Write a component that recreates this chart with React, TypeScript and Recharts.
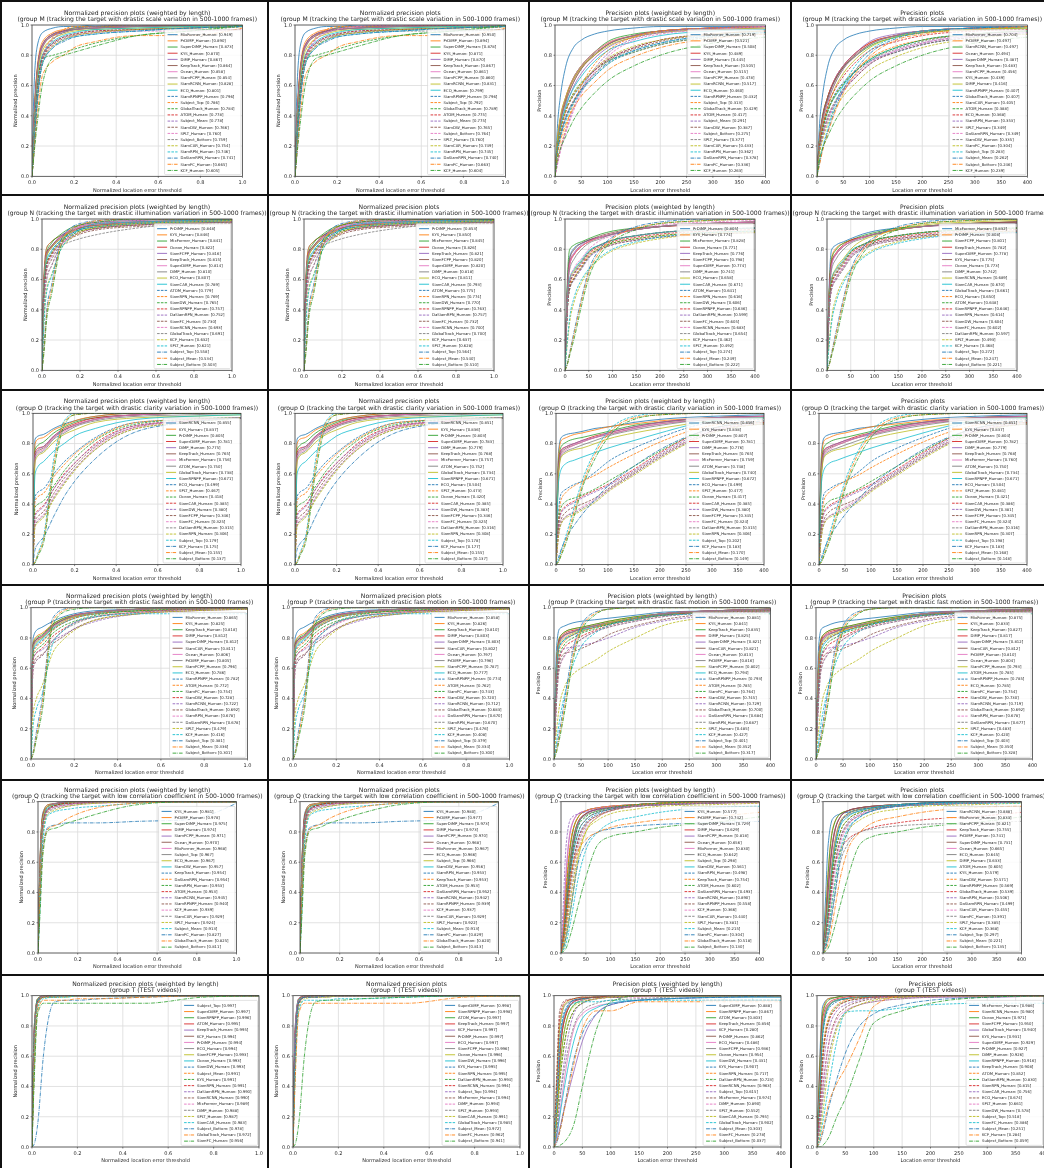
import React from 'react';
import { LineChart, Line, XAxis, YAxis, CartesianGrid } from 'recharts';

type Entry = [string, number];
type Curves = Record<string, number[]>;

const FONT = '"DejaVu Sans", sans-serif';
const TEXT = '#262626';
const TAB10 = ['#1f77b4', '#ff7f0e', '#2ca02c', '#d62728', '#9467bd', '#8c564b', '#e377c2', '#7f7f7f', '#bcbd22', '#17becf'];

// sample thresholds (curves below list the value in % at each threshold after 0)
const NORM_X = [0, 0.01, 0.025, 0.05, 0.1, 0.15, 0.2, 0.3, 0.5, 0.75, 1];
const PREC_X = [0, 5, 10, 20, 35, 50, 75, 100, 150, 200, 300, 400];
const NORM_TICKS = [0, 0.2, 0.4, 0.6, 0.8, 1];
const PREC_TICKS = [0, 50, 100, 150, 200, 250, 300, 350, 400];
const Y_TICKS = [0, 0.2, 0.4, 0.6, 0.8, 1];

const COL_TITLES = ['Normalized precision plots (weighted by length)', 'Normalized precision plots', 'Precision plots (weighted by length)', 'Precision plots'];
const SUBTITLES = [
  '(group M (tracking the target with drastic scale variation in 500-1000 frames))',
  '(group N (tracking the target with drastic illumination variation in 500-1000 frames))',
  '(group O (tracking the target with drastic clarity variation in 500-1000 frames))',
  '(group P (tracking the target with drastic fast motion in 500-1000 frames))',
  '(group Q (tracking the target with low correlation coefficient in 500-1000 frames))',
  '(group T (TEST videos))',
];

// ---------- legends (name, score) ----------
const LEG_M_NW: Entry[] = [['MixFormer', .949], ['PrDiMP', .890], ['SuperDiMP', .873], ['KYS', .870], ['DiMP', .867], ['KeepTrack', .864], ['Ocean', .858], ['SiamFCPP', .854], ['SiamRCNN', .828], ['ECO', .801], ['SiamRPNPP', .796], ['Subject_Top', .786], ['GlobalTrack', .784], ['ATOM', .778], ['Subject_Mean', .778], ['SiamDW', .766], ['SPLT', .760], ['Subject_Bottom', .759], ['SiamCAR', .754], ['SiamRPN', .746], ['DaSiamRPN', .741], ['SiamFC', .665], ['KCF', .605]];
const LEG_M_N: Entry[] = [['MixFormer', .950], ['PrDiMP', .894], ['SuperDiMP', .878], ['KYS', .871], ['DiMP', .870], ['KeepTrack', .867], ['Ocean', .861], ['SiamFCPP', .860], ['SiamRCNN', .831], ['ECO', .799], ['SiamRPNPP', .796], ['Subject_Top', .792], ['GlobalTrack', .789], ['ATOM', .775], ['Subject_Mean', .775], ['SiamDW', .765], ['Subject_Bottom', .764], ['SPLT', .760], ['SiamCAR', .749], ['SiamRPN', .745], ['DaSiamRPN', .740], ['SiamFC', .663], ['KCF', .604]];
const LEG_M_PW: Entry[] = [['MixFormer', .719], ['PrDiMP', .521], ['SuperDiMP', .508], ['KYS', .489], ['DiMP', .445], ['KeepTrack', .505], ['Ocean', .515], ['SiamFCPP', .478], ['SiamRCNN', .517], ['ECO', .460], ['SiamRPNPP', .432], ['Subject_Top', .313], ['GlobalTrack', .429], ['ATOM', .417], ['Subject_Mean', .291], ['SiamDW', .387], ['Subject_Bottom', .275], ['SPLT', .377], ['SiamCAR', .433], ['SiamRPN', .362], ['DaSiamRPN', .378], ['SiamFC', .336], ['KCF', .263]];
const LEG_M_P: Entry[] = [['MixFormer', .704], ['PrDiMP', .497], ['SiamRCNN', .497], ['Ocean', .494], ['SuperDiMP', .487], ['KeepTrack', .483], ['SiamFCPP', .456], ['KYS', .439], ['DiMP', .416], ['SiamRPNPP', .407], ['GlobalTrack', .407], ['SiamCAR', .405], ['ATOM', .388], ['ECO', .368], ['SiamRPN', .353], ['SPLT', .349], ['DaSiamRPN', .349], ['SiamDW', .335], ['SiamFC', .304], ['Subject_Top', .283], ['Subject_Mean', .262], ['Subject_Bottom', .246], ['KCF', .239]];

const LEG_N_NW: Entry[] = [['PrDiMP', .848], ['KYS', .846], ['MixFormer', .841], ['Ocean', .822], ['SiamFCPP', .816], ['KeepTrack', .815], ['SuperDiMP', .814], ['DiMP', .810], ['ECO', .807], ['SiamCAR', .789], ['ATOM', .779], ['SiamRPN', .769], ['SiamDW', .765], ['SiamRPNPP', .757], ['DaSiamRPN', .752], ['SiamFC', .730], ['SiamRCNN', .693], ['GlobalTrack', .691], ['KCF', .632], ['SPLT', .621], ['Subject_Top', .558], ['Subject_Mean', .534], ['Subject_Bottom', .503]];
const LEG_N_N: Entry[] = [['PrDiMP', .853], ['KYS', .850], ['MixFormer', .845], ['Ocean', .826], ['KeepTrack', .821], ['SiamFCPP', .820], ['SuperDiMP', .820], ['DiMP', .818], ['ECO', .811], ['SiamCAR', .793], ['ATOM', .775], ['SiamRPN', .774], ['SiamDW', .770], ['SiamRPNPP', .763], ['DaSiamRPN', .757], ['SiamFC', .732], ['SiamRCNN', .700], ['GlobalTrack', .700], ['KCF', .637], ['SPLT', .628], ['Subject_Top', .564], ['Subject_Mean', .540], ['Subject_Bottom', .510]];
const LEG_N_PW: Entry[] = [['PrDiMP', .805], ['KYS', .774], ['MixFormer', .828], ['Ocean', .771], ['KeepTrack', .776], ['SiamFCPP', .798], ['SuperDiMP', .774], ['DiMP', .741], ['ECO', .658], ['SiamCAR', .671], ['ATOM', .641], ['SiamRPN', .616], ['SiamDW', .606], ['SiamRPNPP', .636], ['DaSiamRPN', .599], ['SiamFC', .605], ['SiamRCNN', .683], ['GlobalTrack', .654], ['KCF', .462], ['SPLT', .492], ['Subject_Top', .274], ['Subject_Mean', .249], ['Subject_Bottom', .222]];
const LEG_N_P: Entry[] = [['MixFormer', .832], ['PrDiMP', .808], ['SiamFCPP', .801], ['KeepTrack', .782], ['SuperDiMP', .778], ['KYS', .775], ['Ocean', .773], ['DiMP', .742], ['SiamRCNN', .689], ['SiamCAR', .670], ['GlobalTrack', .661], ['ECO', .650], ['ATOM', .648], ['SiamRPNPP', .646], ['SiamRPN', .614], ['SiamDW', .604], ['SiamFC', .602], ['DaSiamRPN', .597], ['SPLT', .493], ['KCF', .468], ['Subject_Top', .272], ['Subject_Mean', .247], ['Subject_Bottom', .221]];

const LEG_O_NW: Entry[] = [['SiamRCNN', .855], ['KYS', .837], ['PrDiMP', .805], ['SuperDiMP', .781], ['DiMP', .775], ['KeepTrack', .765], ['MixFormer', .756], ['ATOM', .750], ['GlobalTrack', .738], ['SiamRPNPP', .671], ['ECO', .499], ['SPLT', .467], ['Ocean', .418], ['SiamCAR', .385], ['SiamDW', .380], ['SiamFCPP', .346], ['SiamFC', .325], ['DaSiamRPN', .315], ['SiamRPN', .306], ['Subject_Top', .179], ['KCF', .175], ['Subject_Mean', .155], ['Subject_Bottom', .137]];
const LEG_O_N: Entry[] = [['SiamRCNN', .851], ['KYS', .836], ['PrDiMP', .803], ['SuperDiMP', .783], ['DiMP', .779], ['KeepTrack', .768], ['MixFormer', .757], ['ATOM', .752], ['GlobalTrack', .734], ['SiamRPNPP', .671], ['ECO', .504], ['SPLT', .473], ['Ocean', .420], ['SiamCAR', .385], ['SiamDW', .383], ['SiamFCPP', .346], ['SiamFC', .325], ['DaSiamRPN', .316], ['SiamRPN', .308], ['Subject_Top', .178], ['KCF', .177], ['Subject_Mean', .155], ['Subject_Bottom', .137]];
const LEG_O_PW: Entry[] = [['SiamRCNN', .856], ['KYS', .838], ['PrDiMP', .807], ['SuperDiMP', .781], ['DiMP', .776], ['KeepTrack', .765], ['MixFormer', .759], ['ATOM', .748], ['GlobalTrack', .740], ['SiamRPNPP', .672], ['ECO', .499], ['SPLT', .477], ['Ocean', .417], ['SiamCAR', .385], ['SiamDW', .380], ['SiamFCPP', .345], ['SiamFC', .324], ['DaSiamRPN', .315], ['SiamRPN', .306], ['Subject_Top', .202], ['KCF', .183], ['Subject_Mean', .170], ['Subject_Bottom', .149]];
const LEG_O_P: Entry[] = [['SiamRCNN', .851], ['KYS', .837], ['PrDiMP', .804], ['SuperDiMP', .782], ['DiMP', .779], ['KeepTrack', .768], ['MixFormer', .760], ['ATOM', .750], ['GlobalTrack', .734], ['SiamRPNPP', .671], ['ECO', .504], ['SPLT', .481], ['Ocean', .421], ['SiamCAR', .386], ['SiamDW', .381], ['SiamFCPP', .345], ['SiamFC', .324], ['DaSiamRPN', .316], ['SiamRPN', .307], ['Subject_Top', .198], ['KCF', .183], ['Subject_Mean', .168], ['Subject_Bottom', .148]];

const LEG_P_NW: Entry[] = [['MixFormer', .865], ['KYS', .825], ['KeepTrack', .818], ['DiMP', .812], ['SuperDiMP', .812], ['SiamCAR', .811], ['Ocean', .806], ['PrDiMP', .805], ['SiamFCPP', .796], ['ECO', .786], ['SiamRPNPP', .782], ['ATOM', .772], ['SiamFC', .754], ['SiamDW', .728], ['SiamRCNN', .722], ['GlobalTrack', .692], ['SiamRPN', .678], ['DaSiamRPN', .678], ['SPLT', .479], ['KCF', .416], ['Subject_Top', .381], ['Subject_Mean', .336], ['Subject_Bottom', .301]];
const LEG_P_N: Entry[] = [['MixFormer', .858], ['KYS', .826], ['KeepTrack', .810], ['DiMP', .803], ['SuperDiMP', .803], ['SiamCAR', .802], ['Ocean', .797], ['PrDiMP', .796], ['SiamFCPP', .787], ['ECO', .777], ['SiamRPNPP', .774], ['ATOM', .762], ['SiamFC', .743], ['SiamDW', .720], ['SiamRCNN', .712], ['GlobalTrack', .683], ['DaSiamRPN', .670], ['SiamRPN', .670], ['SPLT', .476], ['KCF', .408], ['Subject_Top', .379], ['Subject_Mean', .334], ['Subject_Bottom', .300]];
const LEG_P_PW: Entry[] = [['MixFormer', .881], ['KYS', .841], ['KeepTrack', .835], ['DiMP', .825], ['SuperDiMP', .821], ['SiamCAR', .821], ['Ocean', .813], ['PrDiMP', .816], ['SiamFCPP', .802], ['ECO', .794], ['SiamRPNPP', .793], ['ATOM', .785], ['SiamFC', .764], ['SiamDW', .745], ['SiamRCNN', .729], ['GlobalTrack', .700], ['DaSiamRPN', .684], ['SiamRPN', .687], ['SPLT', .485], ['KCF', .427], ['Subject_Top', .401], ['Subject_Mean', .352], ['Subject_Bottom', .317]];
const LEG_P_P: Entry[] = [['MixFormer', .875], ['KYS', .833], ['KeepTrack', .827], ['DiMP', .817], ['SuperDiMP', .812], ['SiamCAR', .812], ['PrDiMP', .810], ['Ocean', .804], ['SiamFCPP', .793], ['ATOM', .785], ['SiamRPNPP', .785], ['ECO', .785], ['SiamFC', .754], ['SiamDW', .730], ['SiamRCNN', .719], ['GlobalTrack', .692], ['SiamRPN', .678], ['DaSiamRPN', .677], ['SPLT', .483], ['KCF', .420], ['Subject_Top', .403], ['Subject_Mean', .350], ['Subject_Bottom', .328]];

const LEG_Q_NW: Entry[] = [['KYS', .981], ['PrDiMP', .978], ['SuperDiMP', .975], ['DiMP', .974], ['SiamFCPP', .971], ['Ocean', .970], ['MixFormer', .968], ['Subject_Top', .967], ['ECO', .967], ['SiamDW', .957], ['KeepTrack', .954], ['DaSiamRPN', .954], ['SiamRPN', .953], ['ATOM', .953], ['SiamRCNN', .945], ['SiamRPNPP', .940], ['KCF', .939], ['SiamCAR', .929], ['SPLT', .924], ['Subject_Mean', .913], ['SiamFC', .827], ['GlobalTrack', .825], ['Subject_Bottom', .811]];
const LEG_Q_N: Entry[] = [['KYS', .980], ['PrDiMP', .977], ['SuperDiMP', .973], ['DiMP', .973], ['SiamFCPP', .970], ['Ocean', .968], ['MixFormer', .967], ['ECO', .966], ['Subject_Top', .966], ['SiamDW', .956], ['SiamRPN', .953], ['KeepTrack', .953], ['ATOM', .953], ['DaSiamRPN', .952], ['SiamRCNN', .942], ['SiamRPNPP', .939], ['KCF', .937], ['SiamCAR', .929], ['SPLT', .922], ['Subject_Mean', .913], ['SiamFC', .829], ['GlobalTrack', .820], ['Subject_Bottom', .813]];
const LEG_Q_PW: Entry[] = [['KYS', .577], ['PrDiMP', .742], ['SuperDiMP', .729], ['DiMP', .629], ['SiamFCPP', .818], ['Ocean', .656], ['MixFormer', .830], ['ECO', .642], ['Subject_Top', .298], ['SiamDW', .561], ['SiamRPN', .498], ['KeepTrack', .754], ['ATOM', .602], ['DaSiamRPN', .493], ['SiamRCNN', .890], ['SiamRPNPP', .558], ['KCF', .366], ['SiamCAR', .440], ['SPLT', .381], ['Subject_Mean', .215], ['SiamFC', .304], ['GlobalTrack', .518], ['Subject_Bottom', .130]];
const LEG_Q_P: Entry[] = [['SiamRCNN', .888], ['MixFormer', .833], ['SiamFCPP', .821], ['KeepTrack', .755], ['PrDiMP', .741], ['SuperDiMP', .731], ['Ocean', .665], ['ECO', .645], ['DiMP', .633], ['ATOM', .605], ['KYS', .579], ['SiamDW', .571], ['SiamRPNPP', .569], ['GlobalTrack', .539], ['SiamRPN', .506], ['DaSiamRPN', .499], ['SiamCAR', .455], ['SiamFC', .391], ['SPLT', .385], ['KCF', .368], ['Subject_Top', .297], ['Subject_Mean', .221], ['Subject_Bottom', .135]];

const LEG_T_NW: Entry[] = [['Subject_Top', .997], ['SuperDiMP', .997], ['SiamRPNPP', .996], ['ATOM', .995], ['KeepTrack', .995], ['KCF', .994], ['PrDiMP', .994], ['ECO', .994], ['SiamFCPP', .993], ['Ocean', .993], ['SiamDW', .993], ['Subject_Mean', .991], ['KYS', .991], ['SiamRPN', .991], ['DaSiamRPN', .990], ['SiamRCNN', .990], ['MixFormer', .989], ['DiMP', .988], ['SPLT', .987], ['SiamCAR', .983], ['Subject_Bottom', .978], ['GlobalTrack', .972], ['SiamFC', .956]];
const LEG_T_N: Entry[] = [['SuperDiMP', .998], ['SiamRPNPP', .998], ['ATOM', .997], ['KeepTrack', .997], ['KCF', .997], ['PrDiMP', .997], ['ECO', .997], ['SiamFCPP', .996], ['Ocean', .996], ['SiamDW', .996], ['KYS', .995], ['SiamRPN', .995], ['DaSiamRPN', .994], ['SiamRCNN', .994], ['Subject_Top', .994], ['MixFormer', .994], ['DiMP', .994], ['SPLT', .993], ['SiamCAR', .991], ['GlobalTrack', .985], ['Subject_Mean', .972], ['SiamFC', .962], ['Subject_Bottom', .941]];
const LEG_T_PW: Entry[] = [['SuperDiMP', .888], ['SiamRPNPP', .867], ['ATOM', .803], ['KeepTrack', .856], ['KCF', .280], ['PrDiMP', .862], ['ECO', .486], ['SiamFCPP', .936], ['Ocean', .954], ['SiamDW', .431], ['KYS', .907], ['SiamRPN', .717], ['DaSiamRPN', .723], ['SiamRCNN', .963], ['Subject_Top', .615], ['MixFormer', .974], ['DiMP', .890], ['SPLT', .552], ['SiamCAR', .795], ['GlobalTrack', .902], ['Subject_Mean', .303], ['SiamFC', .278], ['Subject_Bottom', .037]];
const LEG_T_P: Entry[] = [['MixFormer', .986], ['SiamRCNN', .980], ['Ocean', .971], ['SiamFCPP', .950], ['GlobalTrack', .940], ['KYS', .931], ['SuperDiMP', .929], ['PrDiMP', .927], ['DiMP', .926], ['SiamRPNPP', .916], ['KeepTrack', .908], ['ATOM', .852], ['DaSiamRPN', .830], ['SiamRPN', .815], ['SiamCAR', .756], ['ECO', .674], ['SPLT', .661], ['SiamDW', .578], ['Subject_Top', .518], ['SiamFC', .386], ['Subject_Mean', .251], ['KCF', .284], ['Subject_Bottom', .059]];

// ---------- curves (% precision at NORM_X / PREC_X after the origin) ----------
const M_NORM: Curves = {
  MixFormer: [60, 86, 95, 98, 99, 99, 100, 100, 100, 100], PrDiMP: [40, 72, 89, 95, 97, 98, 99, 99, 100, 100],
  SuperDiMP: [38, 70, 87, 94, 96, 98, 99, 99, 100, 100], KYS: [38, 70, 87, 94, 96, 97, 98, 99, 100, 100],
  DiMP: [37, 69, 87, 94, 96, 97, 98, 99, 100, 100], KeepTrack: [36, 68, 86, 93, 96, 97, 98, 99, 100, 100],
  Ocean: [35, 67, 86, 93, 95, 97, 98, 99, 99, 100], SiamFCPP: [35, 66, 85, 93, 95, 97, 98, 99, 99, 100],
  SiamRCNN: [30, 62, 83, 91, 94, 96, 97, 98, 99, 100], ECO: [28, 58, 80, 89, 93, 95, 97, 98, 99, 100],
  SiamRPNPP: [28, 57, 80, 88, 92, 94, 96, 97, 98, 99], GlobalTrack: [26, 56, 78, 80, 82, 84, 88, 93, 96, 99],
  ATOM: [25, 55, 78, 88, 92, 94, 96, 97, 98, 99], SiamDW: [24, 53, 77, 87, 91, 93, 95, 97, 98, 99],
  SPLT: [24, 52, 76, 86, 90, 93, 95, 96, 96, 97], SiamCAR: [23, 51, 75, 86, 90, 93, 95, 97, 98, 99],
  SiamRPN: [22, 50, 75, 85, 90, 92, 94, 96, 98, 99], DaSiamRPN: [22, 50, 74, 85, 89, 92, 94, 96, 98, 99],
  SiamFC: [18, 40, 67, 76, 80, 85, 89, 93, 93, 98], KCF: [15, 35, 61, 78, 80, 82, 86, 93, 96, 100],
  Subject_Top: [20, 52, 79, 92, 97, 99, 99, 100, 100, 100], Subject_Mean: [18, 50, 78, 91, 96, 98, 99, 100, 100, 100],
  Subject_Bottom: [16, 47, 76, 90, 95, 97, 99, 100, 100, 100],
};
const M_PREC: Curves = {
  MixFormer: [35, 52, 72, 85, 90, 94, 96, 98, 99, 99, 99], PrDiMP: [25, 38, 52, 65, 73, 82, 88, 93, 96, 98, 99],
  SuperDiMP: [24, 37, 51, 65, 73, 82, 89, 94, 96, 98, 99], KYS: [23, 35, 49, 62, 71, 80, 87, 93, 96, 98, 99],
  DiMP: [22, 33, 45, 59, 68, 78, 85, 92, 95, 97, 98], KeepTrack: [24, 37, 51, 64, 72, 81, 87, 93, 96, 98, 99],
  Ocean: [25, 38, 52, 65, 73, 82, 88, 93, 96, 98, 99], SiamFCPP: [23, 35, 48, 62, 71, 80, 87, 93, 96, 98, 99],
  SiamRCNN: [26, 39, 52, 64, 72, 80, 86, 92, 95, 97, 98], ECO: [20, 31, 46, 58, 66, 76, 83, 89, 93, 96, 97],
  SiamRPNPP: [20, 30, 43, 53, 60, 70, 77, 85, 90, 94, 96], GlobalTrack: [20, 30, 43, 55, 62, 70, 76, 82, 87, 92, 95],
  ATOM: [19, 29, 42, 54, 61, 70, 77, 85, 90, 94, 96], SiamDW: [18, 27, 39, 50, 58, 68, 76, 84, 89, 94, 96],
  SPLT: [17, 26, 38, 49, 57, 66, 74, 82, 87, 92, 94], SiamCAR: [20, 30, 43, 54, 61, 71, 78, 86, 90, 94, 96],
  SiamRPN: [17, 25, 36, 48, 56, 66, 74, 83, 88, 93, 95], DaSiamRPN: [17, 26, 38, 49, 57, 67, 75, 83, 88, 93, 95],
  SiamFC: [15, 23, 34, 45, 53, 62, 70, 79, 85, 91, 94], KCF: [12, 18, 26, 37, 45, 55, 63, 73, 80, 88, 92],
  Subject_Top: [10, 18, 31, 48, 60, 74, 83, 92, 96, 98, 99], Subject_Mean: [9, 17, 29, 45, 57, 71, 81, 91, 95, 98, 99],
  Subject_Bottom: [8, 16, 28, 43, 55, 69, 79, 90, 94, 97, 99],
};
const N_NORM: Curves = {
  MixFormer: [55, 78, 84, 90, 94, 96, 98, 99, 100, 100], PrDiMP: [62, 81, 85, 89, 92, 94, 97, 98, 99, 100],
  SuperDiMP: [55, 77, 81, 88, 92, 95, 97, 98, 99, 100], KYS: [62, 81, 85, 89, 92, 94, 96, 98, 99, 100],
  DiMP: [54, 76, 81, 87, 91, 94, 96, 98, 99, 100], KeepTrack: [56, 77, 82, 88, 92, 95, 97, 98, 99, 100],
  Ocean: [57, 78, 82, 88, 91, 94, 96, 97, 98, 99], SiamFCPP: [56, 77, 82, 89, 93, 96, 98, 99, 100, 100],
  SiamRCNN: [40, 62, 69, 82, 90, 95, 98, 99, 100, 100], ECO: [54, 75, 81, 87, 91, 93, 95, 97, 98, 99],
  SiamRPNPP: [48, 69, 76, 84, 88, 91, 94, 96, 97, 98], GlobalTrack: [40, 60, 69, 82, 85, 87, 90, 94, 97, 98],
  ATOM: [50, 71, 78, 86, 90, 93, 95, 97, 98, 99], SiamDW: [48, 70, 77, 85, 89, 92, 94, 96, 97, 98],
  SPLT: [30, 52, 62, 80, 88, 93, 97, 98, 99, 100], SiamCAR: [51, 73, 79, 86, 90, 93, 95, 97, 98, 99],
  SiamRPN: [48, 70, 77, 85, 89, 92, 94, 96, 97, 98], DaSiamRPN: [47, 68, 75, 84, 88, 91, 94, 96, 97, 98],
  SiamFC: [44, 66, 73, 83, 87, 90, 93, 95, 96, 97], KCF: [32, 54, 63, 80, 87, 91, 95, 97, 98, 99],
  Subject_Top: [15, 40, 56, 86, 94, 97, 99, 100, 100, 100], Subject_Mean: [13, 37, 53, 84, 93, 96, 99, 100, 100, 100],
  Subject_Bottom: [11, 34, 50, 82, 92, 96, 98, 100, 100, 100],
};
const N_PREC: Curves = {
  MixFormer: [60, 80, 83, 85, 87, 90, 92, 94, 95, 97, 98], PrDiMP: [55, 75, 81, 84, 86, 88, 90, 93, 95, 97, 98],
  SuperDiMP: [50, 70, 77, 82, 85, 88, 90, 93, 95, 97, 98], KYS: [52, 72, 77, 82, 85, 88, 90, 93, 95, 97, 98],
  DiMP: [48, 67, 74, 80, 84, 87, 90, 93, 95, 97, 97], KeepTrack: [52, 72, 78, 83, 86, 88, 90, 93, 95, 97, 98],
  Ocean: [50, 70, 77, 82, 85, 88, 90, 93, 95, 96, 97], SiamFCPP: [54, 74, 80, 84, 86, 89, 91, 94, 95, 97, 98],
  SiamRCNN: [45, 60, 68, 74, 80, 86, 89, 93, 96, 98, 99], ECO: [45, 60, 66, 72, 78, 83, 86, 89, 91, 93, 94],
  SiamRPNPP: [42, 57, 64, 70, 77, 82, 85, 88, 90, 92, 93], GlobalTrack: [44, 59, 65, 72, 78, 83, 86, 89, 91, 93, 94],
  ATOM: [43, 58, 64, 71, 78, 83, 86, 89, 91, 93, 94], SiamDW: [40, 54, 61, 68, 75, 81, 84, 87, 89, 91, 92],
  SPLT: [20, 35, 49, 60, 67, 75, 80, 85, 88, 91, 92], SiamCAR: [45, 61, 67, 73, 79, 83, 86, 89, 91, 93, 94],
  SiamRPN: [41, 55, 62, 69, 76, 81, 84, 87, 89, 91, 92], DaSiamRPN: [40, 54, 60, 67, 74, 80, 83, 86, 88, 90, 91],
  SiamFC: [40, 54, 61, 68, 75, 80, 83, 86, 88, 90, 91], KCF: [18, 32, 46, 58, 66, 74, 79, 84, 87, 90, 91],
  Subject_Top: [5, 12, 27, 48, 66, 81, 88, 95, 98, 100, 100], Subject_Mean: [4, 11, 25, 46, 64, 79, 87, 94, 97, 99, 100],
  Subject_Bottom: [4, 10, 22, 43, 61, 77, 85, 93, 97, 99, 100],
};
const O_NORM: Curves = {
  SiamRCNN: [83, 85, 86, 90, 93, 95, 98, 100, 100, 100], KYS: [80, 83, 84, 89, 92, 95, 98, 100, 100, 100],
  PrDiMP: [76, 79, 81, 87, 91, 94, 97, 99, 100, 100], SuperDiMP: [74, 77, 78, 85, 90, 93, 97, 99, 100, 100],
  DiMP: [73, 76, 78, 85, 89, 92, 96, 99, 100, 100], KeepTrack: [72, 75, 77, 84, 89, 92, 96, 99, 100, 100],
  MixFormer: [71, 74, 76, 84, 88, 92, 96, 99, 100, 100], ATOM: [70, 73, 75, 83, 87, 91, 95, 98, 99, 100],
  GlobalTrack: [68, 72, 74, 81, 86, 89, 94, 97, 98, 99], SiamRPNPP: [60, 65, 68, 75, 80, 85, 90, 96, 98, 99],
  ECO: [45, 48, 50, 60, 68, 74, 84, 94, 96, 97], SPLT: [42, 45, 47, 58, 66, 73, 83, 94, 96, 97],
  Ocean: [38, 40, 42, 52, 62, 70, 82, 93, 96, 97], SiamCAR: [33, 36, 39, 50, 60, 67, 80, 92, 95, 97],
  SiamDW: [32, 35, 38, 50, 59, 67, 79, 92, 95, 97], SiamFCPP: [29, 32, 35, 47, 57, 65, 78, 91, 95, 97],
  SiamFC: [27, 30, 33, 45, 55, 63, 77, 91, 95, 97], DaSiamRPN: [26, 29, 32, 44, 54, 63, 76, 90, 94, 97],
  SiamRPN: [25, 28, 31, 43, 53, 62, 76, 90, 94, 97], Subject_Top: [2, 8, 18, 70, 95, 100, 100, 100, 100, 100],
  KCF: [10, 14, 18, 32, 45, 55, 70, 88, 94, 97], Subject_Mean: [2, 7, 16, 66, 94, 99, 100, 100, 100, 100],
  Subject_Bottom: [1, 6, 14, 62, 92, 99, 100, 100, 100, 100],
};
const O_PREC: Curves = {
  SiamRCNN: [75, 84, 86, 87, 88, 90, 91, 94, 96, 98, 99], KYS: [72, 82, 84, 86, 87, 89, 91, 93, 95, 97, 98],
  PrDiMP: [68, 78, 81, 83, 84, 86, 88, 92, 94, 97, 98], SuperDiMP: [65, 76, 78, 80, 82, 85, 87, 91, 94, 97, 98],
  DiMP: [64, 75, 78, 80, 82, 84, 87, 91, 94, 97, 98], KeepTrack: [63, 74, 77, 79, 81, 84, 86, 90, 93, 96, 98],
  MixFormer: [62, 73, 76, 79, 81, 84, 86, 90, 93, 96, 98], ATOM: [61, 72, 75, 77, 79, 82, 85, 89, 92, 96, 97],
  GlobalTrack: [60, 71, 74, 76, 77, 80, 83, 87, 90, 95, 97], SiamRPNPP: [55, 63, 67, 69, 71, 74, 77, 82, 87, 95, 97],
  ECO: [35, 47, 50, 53, 55, 61, 68, 77, 84, 94, 96], SPLT: [30, 43, 48, 52, 55, 59, 64, 73, 81, 92, 95],
  Ocean: [28, 38, 42, 44, 46, 50, 55, 65, 75, 90, 94], SiamCAR: [26, 35, 39, 42, 45, 49, 53, 63, 74, 90, 94],
  SiamDW: [25, 34, 38, 41, 44, 48, 52, 62, 73, 89, 93], SiamFCPP: [22, 30, 35, 38, 40, 44, 50, 61, 72, 88, 93],
  SiamFC: [20, 28, 32, 35, 38, 43, 49, 60, 71, 88, 93], DaSiamRPN: [20, 27, 32, 34, 37, 42, 49, 60, 71, 87, 93],
  SiamRPN: [19, 27, 31, 33, 36, 41, 48, 59, 70, 87, 93], Subject_Top: [3, 9, 20, 38, 55, 75, 88, 98, 100, 100, 100],
  KCF: [5, 10, 18, 26, 33, 43, 52, 65, 76, 90, 95], Subject_Mean: [2, 7, 17, 35, 52, 73, 86, 97, 99, 100, 100],
  Subject_Bottom: [2, 6, 15, 32, 50, 70, 84, 96, 99, 100, 100],
};
const P_NORM: Curves = {
  MixFormer: [80, 85, 87, 91, 94, 96, 98, 99, 100, 100], KYS: [77, 81, 83, 89, 93, 95, 97, 99, 100, 100],
  KeepTrack: [76, 80, 82, 89, 93, 95, 97, 99, 100, 100], DiMP: [75, 79, 81, 88, 92, 95, 97, 99, 100, 100],
  SuperDiMP: [75, 79, 81, 88, 92, 95, 97, 99, 100, 100], SiamCAR: [75, 79, 81, 88, 92, 94, 97, 99, 100, 100],
  Ocean: [74, 78, 81, 87, 91, 94, 97, 99, 100, 100], PrDiMP: [74, 78, 80, 87, 92, 94, 97, 99, 100, 100],
  SiamFCPP: [73, 77, 80, 86, 91, 94, 96, 98, 99, 100], ECO: [72, 76, 79, 86, 90, 93, 96, 98, 99, 100],
  SiamRPNPP: [71, 75, 78, 85, 90, 93, 96, 98, 99, 100], ATOM: [70, 74, 77, 85, 90, 93, 96, 98, 99, 100],
  SiamFC: [68, 72, 75, 83, 88, 91, 95, 98, 99, 100], SiamDW: [66, 70, 73, 81, 86, 90, 94, 97, 99, 100],
  SiamRCNN: [66, 70, 72, 78, 82, 86, 91, 96, 98, 99], GlobalTrack: [62, 67, 69, 76, 81, 86, 92, 96, 98, 99],
  SiamRPN: [60, 65, 68, 78, 85, 90, 94, 97, 99, 100], DaSiamRPN: [60, 65, 68, 78, 85, 89, 94, 97, 99, 100],
  SPLT: [30, 40, 48, 70, 79, 85, 92, 96, 98, 99], KCF: [22, 33, 42, 76, 85, 90, 94, 96, 96, 96],
  Subject_Top: [5, 18, 38, 93, 99, 100, 100, 100, 100, 100], Subject_Mean: [4, 15, 34, 91, 98, 100, 100, 100, 100, 100],
  Subject_Bottom: [3, 13, 30, 88, 97, 99, 100, 100, 100, 100],
};
const P_PREC: Curves = {
  MixFormer: [75, 86, 88, 90, 91, 92, 93, 95, 97, 98, 99], KYS: [65, 80, 84, 86, 87, 89, 91, 94, 96, 98, 99],
  KeepTrack: [65, 80, 84, 86, 87, 89, 91, 94, 96, 98, 99], DiMP: [63, 79, 83, 85, 86, 88, 90, 93, 96, 98, 99],
  SuperDiMP: [62, 78, 82, 84, 86, 88, 90, 93, 96, 98, 99], SiamCAR: [62, 78, 82, 84, 86, 88, 90, 93, 96, 98, 99],
  Ocean: [60, 77, 81, 84, 86, 88, 90, 93, 96, 98, 99], PrDiMP: [61, 77, 82, 84, 86, 88, 90, 93, 96, 98, 99],
  SiamFCPP: [58, 76, 80, 83, 85, 87, 90, 93, 95, 97, 98], ECO: [55, 75, 79, 82, 85, 87, 89, 93, 95, 97, 98],
  SiamRPNPP: [55, 74, 79, 82, 84, 87, 89, 93, 95, 97, 98], ATOM: [50, 72, 78, 82, 84, 87, 89, 93, 95, 97, 98],
  SiamFC: [45, 68, 76, 80, 83, 86, 89, 92, 95, 97, 98], SiamDW: [45, 66, 74, 78, 81, 85, 88, 92, 95, 97, 98],
  SiamRCNN: [50, 68, 73, 74, 75, 77, 80, 87, 91, 95, 97], GlobalTrack: [45, 64, 70, 71, 73, 77, 82, 88, 92, 96, 97],
  DaSiamRPN: [40, 60, 68, 74, 79, 84, 87, 91, 94, 97, 98], SiamRPN: [40, 60, 69, 75, 79, 84, 87, 91, 94, 97, 98],
  SPLT: [20, 35, 48, 56, 60, 65, 71, 80, 88, 94, 96], KCF: [12, 25, 43, 62, 74, 83, 88, 92, 95, 96, 96],
  Subject_Top: [8, 18, 40, 72, 88, 97, 99, 100, 100, 100, 100], Subject_Mean: [6, 15, 35, 68, 86, 96, 99, 100, 100, 100, 100],
  Subject_Bottom: [5, 13, 32, 65, 84, 95, 99, 100, 100, 100, 100],
};
const Q_NORM: Curves = {
  KYS: [60, 93, 98, 99, 100, 100, 100, 100, 100, 100], PrDiMP: [60, 92, 98, 99, 100, 100, 100, 100, 100, 100],
  SuperDiMP: [58, 91, 97, 99, 100, 100, 100, 100, 100, 100], DiMP: [58, 91, 97, 99, 100, 100, 100, 100, 100, 100],
  SiamFCPP: [56, 90, 97, 99, 100, 100, 100, 100, 100, 100], Ocean: [55, 90, 97, 99, 99, 100, 100, 100, 100, 100],
  MixFormer: [55, 89, 97, 99, 99, 100, 100, 100, 100, 100], Subject_Top: [40, 85, 97, 99, 100, 100, 100, 100, 100, 100],
  ECO: [54, 89, 97, 98, 99, 100, 100, 100, 100, 100], SiamDW: [50, 86, 96, 98, 99, 99, 100, 100, 100, 100],
  KeepTrack: [50, 85, 95, 98, 99, 99, 100, 100, 100, 100], DaSiamRPN: [50, 85, 95, 98, 99, 99, 100, 100, 100, 100],
  SiamRPN: [49, 85, 95, 98, 99, 99, 100, 100, 100, 100], ATOM: [49, 85, 95, 98, 99, 99, 100, 100, 100, 100],
  SiamRCNN: [48, 83, 95, 97, 98, 99, 100, 100, 100, 100], SiamRPNPP: [47, 82, 94, 97, 98, 99, 100, 100, 100, 100],
  KCF: [45, 82, 94, 97, 98, 99, 99, 100, 100, 100], SiamCAR: [45, 80, 93, 96, 97, 98, 99, 100, 100, 100],
  SPLT: [44, 79, 92, 95, 97, 98, 99, 100, 100, 100], Subject_Mean: [30, 75, 91, 94, 95, 96, 97, 99, 100, 100],
  SiamFC: [35, 70, 83, 85, 86, 86, 86, 87, 88, 99], GlobalTrack: [35, 68, 82, 85, 89, 92, 96, 99, 100, 100],
  Subject_Bottom: [25, 65, 81, 83, 86, 88, 92, 98, 100, 100],
};
const Q_PREC: Curves = {
  KYS: [10, 25, 58, 85, 92, 95, 96, 98, 99, 100, 100], PrDiMP: [15, 40, 74, 90, 94, 96, 97, 98, 99, 100, 100],
  SuperDiMP: [15, 38, 73, 90, 94, 96, 97, 98, 99, 100, 100], DiMP: [12, 30, 63, 87, 92, 95, 96, 98, 99, 100, 100],
  SiamFCPP: [20, 50, 82, 92, 94, 96, 97, 98, 99, 100, 100], Ocean: [12, 32, 66, 87, 92, 95, 96, 98, 99, 100, 100],
  MixFormer: [22, 52, 83, 92, 94, 96, 97, 98, 99, 100, 100], ECO: [12, 30, 64, 86, 91, 94, 96, 98, 99, 100, 100],
  Subject_Top: [3, 10, 30, 63, 80, 90, 94, 97, 99, 100, 100], SiamDW: [10, 24, 56, 80, 88, 93, 95, 97, 98, 99, 100],
  SiamRPN: [8, 20, 50, 76, 86, 92, 95, 97, 98, 99, 100], KeepTrack: [16, 42, 75, 90, 94, 96, 97, 98, 99, 100, 100],
  ATOM: [11, 27, 60, 84, 90, 94, 96, 98, 99, 100, 100], DaSiamRPN: [8, 20, 49, 75, 85, 91, 94, 97, 98, 99, 100],
  SiamRCNN: [35, 70, 89, 92, 93, 95, 96, 97, 98, 99, 100], SiamRPNPP: [10, 24, 56, 80, 88, 93, 95, 97, 98, 99, 100],
  KCF: [5, 14, 37, 68, 82, 90, 94, 97, 98, 99, 99], SiamCAR: [6, 17, 44, 72, 84, 91, 94, 97, 98, 99, 100],
  SPLT: [5, 14, 38, 66, 80, 88, 92, 95, 97, 98, 99], Subject_Mean: [2, 6, 22, 50, 68, 80, 86, 90, 93, 96, 97],
  SiamFC: [4, 10, 30, 60, 72, 80, 82, 84, 85, 86, 87], GlobalTrack: [8, 20, 52, 68, 75, 80, 83, 86, 88, 90, 93],
  Subject_Bottom: [1, 3, 13, 32, 50, 72, 77, 80, 83, 86, 90],
};
const T_NORM: Curves = {
  MixFormer: [60, 95, 99, 99, 100, 100, 100, 100, 100, 100], PrDiMP: [75, 97, 99, 100, 100, 100, 100, 100, 100, 100],
  SuperDiMP: [80, 98, 100, 100, 100, 100, 100, 100, 100, 100], KYS: [70, 96, 99, 100, 100, 100, 100, 100, 100, 100],
  DiMP: [60, 94, 99, 99, 100, 100, 100, 100, 100, 100], KeepTrack: [78, 97, 100, 100, 100, 100, 100, 100, 100, 100],
  Ocean: [72, 97, 99, 100, 100, 100, 100, 100, 100, 100], SiamFCPP: [72, 97, 99, 100, 100, 100, 100, 100, 100, 100],
  SiamRCNN: [65, 95, 99, 100, 100, 100, 100, 100, 100, 100], ECO: [74, 97, 99, 100, 100, 100, 100, 100, 100, 100],
  SiamRPNPP: [78, 98, 100, 100, 100, 100, 100, 100, 100, 100], GlobalTrack: [50, 90, 97, 97, 97, 98, 98, 99, 100, 100],
  ATOM: [76, 97, 100, 100, 100, 100, 100, 100, 100, 100], SiamDW: [72, 97, 99, 100, 100, 100, 100, 100, 100, 100],
  SPLT: [55, 94, 99, 99, 99, 100, 100, 100, 100, 100], SiamCAR: [50, 92, 98, 99, 99, 100, 100, 100, 100, 100],
  SiamRPN: [68, 96, 99, 100, 100, 100, 100, 100, 100, 100], DaSiamRPN: [66, 95, 99, 100, 100, 100, 100, 100, 100, 100],
  SiamFC: [45, 88, 95, 95, 95, 95, 95, 95, 99, 100], KCF: [74, 97, 99, 100, 100, 100, 100, 100, 100, 100],
  Subject_Top: [80, 98, 100, 100, 100, 100, 100, 100, 100, 100], Subject_Mean: [60, 95, 99, 99, 100, 100, 100, 100, 100, 100],
  Subject_Bottom: [2, 15, 60, 96, 97, 97, 98, 99, 100, 100],
};
const T_PREC_W: Curves = {
  MixFormer: [50, 90, 97, 98, 99, 99, 100, 100, 100, 100, 100], SiamRCNN: [45, 85, 96, 98, 99, 99, 100, 100, 100, 100, 100],
  Ocean: [40, 80, 95, 98, 99, 99, 100, 100, 100, 100, 100], SiamFCPP: [38, 78, 94, 97, 98, 99, 99, 100, 100, 100, 100],
  KYS: [30, 70, 91, 97, 98, 99, 99, 100, 100, 100, 100], GlobalTrack: [30, 68, 90, 95, 96, 96, 97, 97, 97, 97, 97],
  DiMP: [28, 65, 89, 96, 97, 98, 99, 99, 100, 100, 100], SuperDiMP: [28, 65, 89, 97, 98, 99, 99, 100, 100, 100, 100],
  PrDiMP: [25, 60, 86, 96, 98, 99, 99, 100, 100, 100, 100], KeepTrack: [25, 58, 86, 96, 98, 99, 99, 100, 100, 100, 100],
  SiamRPNPP: [26, 60, 87, 96, 98, 99, 99, 100, 100, 100, 100], ATOM: [22, 50, 80, 94, 97, 99, 99, 100, 100, 100, 100],
  SiamCAR: [20, 48, 80, 93, 96, 98, 99, 100, 100, 100, 100], DaSiamRPN: [18, 42, 72, 90, 95, 98, 99, 100, 100, 100, 100],
  SiamRPN: [18, 42, 72, 90, 95, 98, 99, 100, 100, 100, 100], Subject_Top: [10, 30, 62, 88, 95, 98, 99, 100, 100, 100, 100],
  SPLT: [12, 30, 55, 80, 90, 95, 97, 98, 99, 100, 100], ECO: [8, 22, 49, 78, 88, 93, 95, 97, 98, 99, 99],
  SiamDW: [8, 20, 43, 70, 85, 92, 95, 97, 98, 99, 99], Subject_Mean: [3, 10, 30, 58, 75, 88, 94, 97, 98, 99, 100],
  KCF: [5, 12, 28, 50, 70, 88, 94, 97, 98, 99, 100], SiamFC: [4, 10, 28, 55, 78, 90, 90, 96, 96, 96, 96],
  Subject_Bottom: [0, 1, 4, 15, 40, 78, 96, 100, 100, 100, 100],
};
const T_PREC: Curves = {
  MixFormer: [60, 93, 98, 99, 100, 100, 100, 100, 100, 100, 100], SiamRCNN: [55, 90, 98, 99, 100, 100, 100, 100, 100, 100, 100],
  Ocean: [50, 88, 97, 99, 100, 100, 100, 100, 100, 100, 100], SiamFCPP: [45, 85, 95, 98, 99, 100, 100, 100, 100, 100, 100],
  GlobalTrack: [40, 80, 94, 97, 98, 99, 99, 99, 99, 99, 100], KYS: [38, 78, 93, 97, 98, 99, 100, 100, 100, 100, 100],
  SuperDiMP: [38, 78, 93, 97, 98, 99, 100, 100, 100, 100, 100], PrDiMP: [38, 77, 93, 97, 98, 99, 100, 100, 100, 100, 100],
  DiMP: [37, 77, 93, 97, 98, 99, 100, 100, 100, 100, 100], SiamRPNPP: [35, 75, 92, 97, 98, 99, 100, 100, 100, 100, 100],
  KeepTrack: [33, 73, 91, 96, 98, 99, 100, 100, 100, 100, 100], ATOM: [28, 62, 85, 94, 97, 99, 99, 100, 100, 100, 100],
  DaSiamRPN: [25, 58, 83, 93, 96, 98, 99, 100, 100, 100, 100], SiamRPN: [25, 56, 82, 92, 96, 98, 99, 100, 100, 100, 100],
  SiamCAR: [20, 48, 76, 90, 94, 97, 99, 100, 100, 100, 100], ECO: [15, 38, 67, 86, 92, 96, 98, 99, 100, 100, 100],
  SPLT: [15, 36, 66, 84, 90, 94, 96, 98, 99, 100, 100], SiamDW: [12, 30, 58, 80, 89, 94, 96, 98, 99, 100, 100],
  Subject_Top: [8, 22, 52, 78, 88, 94, 97, 99, 100, 100, 100], SiamFC: [6, 16, 39, 70, 89, 90, 90, 92, 94, 95, 95],
  Subject_Mean: [3, 9, 25, 45, 62, 80, 88, 94, 97, 99, 100], KCF: [4, 11, 28, 42, 52, 72, 93, 100, 100, 100, 100],
  Subject_Bottom: [0, 1, 6, 20, 32, 58, 82, 90, 95, 99, 100],
};

const LEGENDS: Entry[][][] = [
  [LEG_M_NW, LEG_M_N, LEG_M_PW, LEG_M_P],
  [LEG_N_NW, LEG_N_N, LEG_N_PW, LEG_N_P],
  [LEG_O_NW, LEG_O_N, LEG_O_PW, LEG_O_P],
  [LEG_P_NW, LEG_P_N, LEG_P_PW, LEG_P_P],
  [LEG_Q_NW, LEG_Q_N, LEG_Q_PW, LEG_Q_P],
  [LEG_T_NW, LEG_T_N, LEG_T_PW, LEG_T_P],
];
const CURVES: Curves[][] = [
  [M_NORM, M_NORM, M_PREC, M_PREC],
  [N_NORM, N_NORM, N_PREC, N_PREC],
  [O_NORM, O_NORM, O_PREC, O_PREC],
  [P_NORM, P_NORM, P_PREC, P_PREC],
  [Q_NORM, Q_NORM, Q_PREC, Q_PREC],
  [T_NORM, T_NORM, T_PREC_W, T_PREC],
];

// ---------- layout ----------
const COL_EDGES = [0, 268, 529, 791, 1044];
const ROW_EDGES = [0, 195, 390, 585, 780, 975, 1168];
const PLOT_LEFT = [[32, 295, 555, 817], [42, 304, 565, 827], [33, 295, 556, 819], [31, 293, 554, 816], [38, 300, 561, 823], [32, 293, 554, 817]];
const PLOT_W = [210.5, 190, 208, 216.5, 198.5, 227];
const PLOT_TOP = [25, 219, 413.3, 607.7, 801.7, 995.7];
const PLOT_H = 151.3;
const YW = 14;
const XH = 10;
const LEG_FS = 3.8;
const LEG_STEP = 6.17;

const dashFor = (k: number) => (k < 10 ? undefined : k < 20 ? '2.6 1.2' : '3.8 1 0.7 1');
const labelOf = (n: string, s: number) => `${n.startsWith('Subject') ? n : n + '_Human'}: [${s.toFixed(3)}]`;

let measureCtx: CanvasRenderingContext2D | null = null;
function textWidth(s: string, size: number) {
  if (!measureCtx && typeof document !== 'undefined') {
    measureCtx = document.createElement('canvas').getContext('2d');
  }
  if (!measureCtx) return s.length * size * 0.58;
  measureCtx.font = `${size}px "DejaVu Sans"`;
  return measureCtx.measureText(s).width;
}

function LegendBox({ entries, right, firstY }: { entries: Entry[]; right: number; firstY: number }) {
  const labels = entries.map(([n, s]) => labelOf(n, s));
  const tw = Math.max(...labels.map((l) => textWidth(l, LEG_FS)));
  const bw = 16 + tw + 6;
  const bx = right - bw;
  const by = firstY - 5;
  const bh = 5 + (entries.length - 1) * LEG_STEP + 4.2;
  return (
    <g>
      <rect x={bx} y={by} width={bw} height={bh} rx={1} fill="#fff" fillOpacity={0.85} stroke="#cfcfcf" strokeWidth={0.6} />
      {labels.map((l, k) => {
        const y = firstY + k * LEG_STEP;
        return (
          <g key={k}>
            <line x1={bx + 3} x2={bx + 13} y1={y} y2={y} stroke={TAB10[k % 10]} strokeWidth={0.9} strokeDasharray={dashFor(k)} />
            <text x={bx + 16} y={y} dy="0.35em" fontSize={LEG_FS} fill={TEXT} fontFamily={FONT}>{l}</text>
          </g>
        );
      })}
    </g>
  );
}

function Panel({ r, c }: { r: number; c: number }) {
  const cx = COL_EDGES[c];
  const cy = ROW_EDGES[r];
  const cw = COL_EDGES[c + 1] - cx;
  const ch = ROW_EDGES[r + 1] - cy;
  const pl = PLOT_LEFT[r][c] - cx;
  const pt = PLOT_TOP[r] - cy;
  const pw = PLOT_W[r];
  const ph = PLOT_H;
  const norm = c < 2;
  const xs = norm ? NORM_X : PREC_X;
  const legend = LEGENDS[r][c];
  const curves = CURVES[r][c];
  const data = xs.map((x, i) => {
    const row: Record<string, number | null> = { x };
    legend.forEach(([name], k) => {
      const arr = curves[name];
      row['s' + k] = i === 0 ? 0 : arr && arr[i - 1] != null ? arr[i - 1] / 100 : null;
    });
    return row;
  });
  const margin = { top: pt, left: pl - YW, right: cw - pl - pw, bottom: ch - pt - ph - XH };
  const tickStyle = { fontSize: 5, fill: TEXT, fontFamily: FONT };
  const midX = pl + pw / 2;
  const yLabX = pl - (norm ? 17 : 16);
  return (
    <div style={{ position: 'absolute', left: cx, top: cy, width: cw, height: ch, overflow: 'hidden', background: '#fff' }}>
      <div style={{ position: 'absolute', left: 0, top: 0, willChange: 'transform' }}>
        <LineChart width={cw} height={ch} data={data} margin={margin}>
          <CartesianGrid stroke="#dadada" strokeWidth={0.8} />
          <XAxis
            dataKey="x"
            type="number"
            domain={[0, norm ? 1 : 400]}
            ticks={norm ? NORM_TICKS : PREC_TICKS}
            tickFormatter={(v: number) => (norm ? v.toFixed(1) : String(v))}
            interval={0}
            height={XH}
            tickSize={1.5}
            tickMargin={2.5}
            axisLine={false}
            tickLine={{ stroke: '#333', strokeWidth: 0.6 }}
            tick={tickStyle}
            allowDataOverflow
          />
          <YAxis
            type="number"
            domain={[0, 1]}
            ticks={Y_TICKS}
            tickFormatter={(v: number) => v.toFixed(1)}
            interval={0}
            width={YW}
            tickSize={1.5}
            tickMargin={1.5}
            axisLine={false}
            tickLine={{ stroke: '#333', strokeWidth: 0.6 }}
            tick={tickStyle}
            allowDataOverflow
          />
          {legend.map(([name], k) => (
            <Line
              key={name}
              dataKey={'s' + k}
              type="monotone"
              stroke={TAB10[k % 10]}
              strokeWidth={0.8}
              strokeDasharray={dashFor(k)}
              dot={false}
              activeDot={false}
              connectNulls
              isAnimationActive={false}
            />
          ))}
        </LineChart>
      </div>
      <svg width={cw} height={ch} style={{ position: 'absolute', left: 0, top: 0, pointerEvents: 'none', willChange: 'transform' }}>
        <rect x={pl} y={pt} width={pw} height={ph} fill="none" stroke="#333" strokeWidth={0.7} />
        <text x={midX} y={pt - 12.3} dy="0.35em" textAnchor="middle" fontSize={6.1} fill={TEXT} fontFamily={FONT}>{COL_TITLES[c]}</text>
        <text x={midX} y={pt - 5.7} dy="0.35em" textAnchor="middle" fontSize={6.1} fill={TEXT} fontFamily={FONT}>{SUBTITLES[r]}</text>
        <text x={midX} y={pt + ph + 13.5} dy="0.35em" textAnchor="middle" fontSize={5} fill={TEXT} fontFamily={FONT}>
          {norm ? 'Normalized location error threshold' : 'Location error threshold'}
        </text>
        <text
          x={yLabX}
          y={pt + ph / 2}
          dy="0.35em"
          textAnchor="middle"
          fontSize={5}
          fill={TEXT}
          fontFamily={FONT}
          transform={`rotate(-90 ${yLabX} ${pt + ph / 2})`}
        >
          {norm ? 'Normalized precision' : 'Precision'}
        </text>
        <LegendBox entries={legend} right={pl + pw - 1.5} firstY={pt + 9.7} />
      </svg>
    </div>
  );
}

export default function App() {
  const panels: React.ReactElement[] = [];
  for (let r = 0; r < 6; r++) {
    for (let c = 0; c < 4; c++) panels.push(<Panel key={`${r}-${c}`} r={r} c={c} />);
  }
  const vLines = [0, 267, 528, 790];
  const hLines = [0, 194, 389, 584, 779, 974];
  return (
    <div style={{ position: 'absolute', left: 0, top: 0, width: 1044, height: 1168, background: '#fff', overflow: 'hidden', fontFamily: FONT }}>
      {panels}
      {vLines.map((x) => (
        <div key={'v' + x} style={{ position: 'absolute', left: x, top: 0, width: 2, height: 1168, background: '#111' }} />
      ))}
      {hLines.map((y) => (
        <div key={'h' + y} style={{ position: 'absolute', left: 0, top: y, width: 1044, height: y === 0 ? 1.5 : 2, background: '#111' }} />
      ))}
    </div>
  );
}
